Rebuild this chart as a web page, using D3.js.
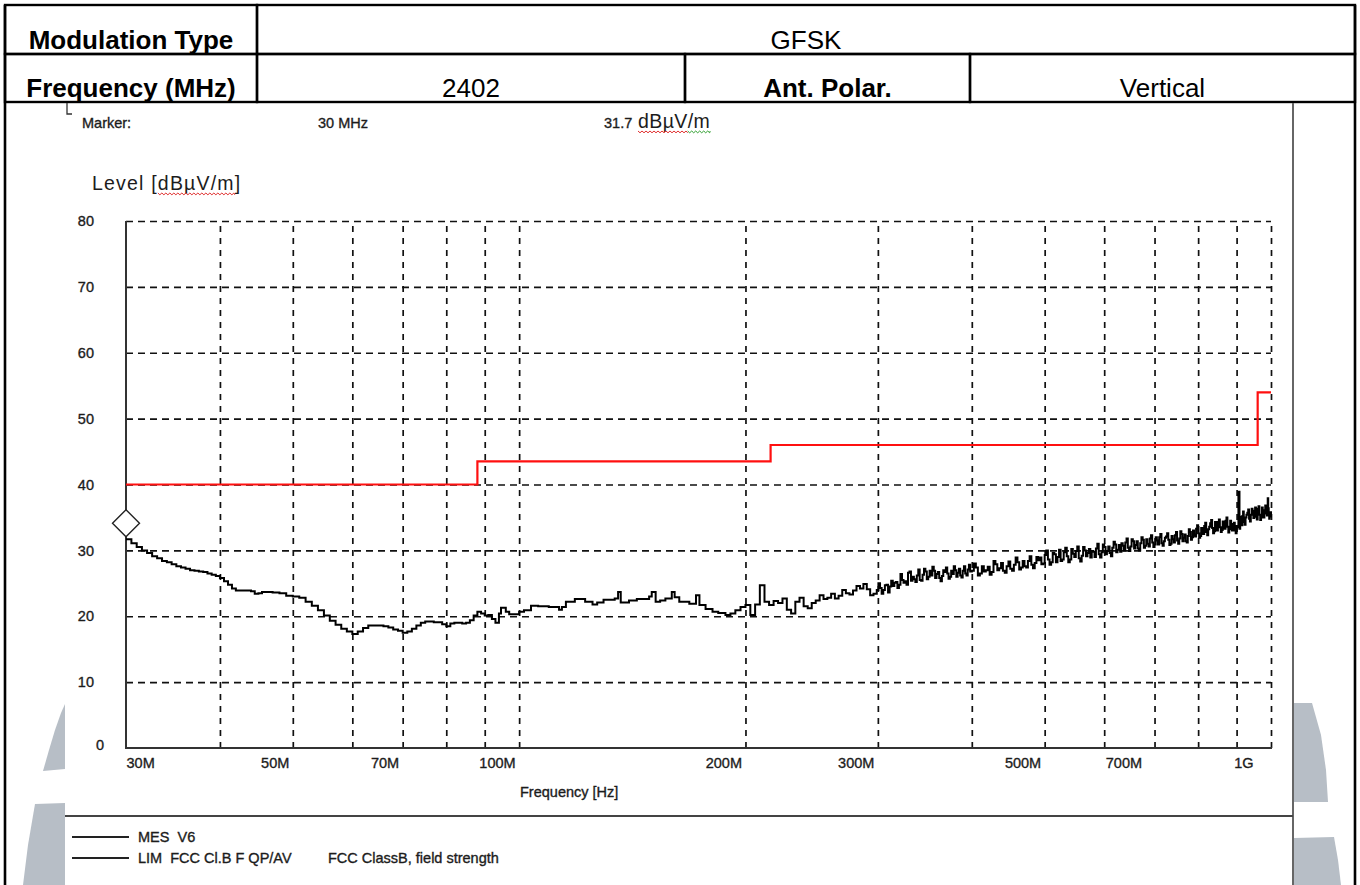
<!DOCTYPE html>
<html>
<head>
<meta charset="utf-8">
<script src="https://cdn.jsdelivr.net/npm/d3@7"></script>
<style>
  body { margin: 0; background: #fff; }
  svg { display: block; }
  text { font-family: "Liberation Sans", Arial, sans-serif; white-space: pre; }
  .ct { fill: #1c1c1c; stroke: #1c1c1c; stroke-width: 0.35px; }
</style>
</head>
<body>
<svg id="chart" width="1360" height="885"></svg>
<script>
// ---- header table ----
const headerRow1 = ["Modulation Type", "GFSK"];
const headerRow2 = ["Frequency (MHz)", "2402", "Ant. Polar.", "Vertical"];

// ---- marker readout ----
const markerFreq = 30;          // MHz
const markerLevel = 31.7;       // dBµV/m
const markerTexts = ["Marker:", "30 MHz", "31.7", "dBµV/m"];

// ---- axes ----
const yTicks = [0, 10, 20, 30, 40, 50, 60, 70, 80];
const gridFreqs = [40, 50, 60, 70, 80, 90, 100, 200, 300, 400, 500, 600, 700, 800, 900, 1000];
const labelFreqs = [30, 50, 70, 100, 200, 300, 500, 700, 1000];
const labelTexts = ["30M", "50M", "70M", "100M", "200M", "300M", "500M", "700M", "1G"];

// ---- FCC Class B limit (step function, MHz / dBµV/m) ----
const limitFreqs = [30, 88, 216, 960, 1000];
const limitLevels = [40, 43.5, 46, 54, 54];

// ---- measured sweep, vertical polarisation (MHz / dBµV/m) ----
const measFreqs = [
  30, 30.5, 31, 31.5, 32, 32.5, 33, 33.5, 34, 34.5, 35, 35.5, 36, 36.5, 37, 37.5, 38, 38.5, 39, 39.5,
  40, 40.5, 41, 41.5, 42, 43, 44, 44.5, 45, 45.5, 46, 47, 48, 49, 50, 51, 52, 53, 54, 55,
  56, 57, 58, 59, 60, 61, 62, 63, 64, 65, 66, 67, 68, 69, 70, 71, 72, 73, 74, 75,
  76, 77, 78, 79, 80, 81, 82, 83, 84, 85, 86, 87, 88, 89, 90, 91, 92, 93, 94, 94.6,
  96, 97, 98, 100, 101.5, 103.7, 106, 109.5, 113, 114, 115.4, 118.6, 122.4, 125.2, 127, 129.5, 134, 135.4, 136.5, 140,
  143.4, 148.9, 150.1, 151.9, 154, 156.5, 159.6, 161, 163.3, 168.4, 171.9, 173.7, 177, 180.8, 184, 188.1, 191, 193.9, 197,
  200, 203, 206, 209, 212, 215, 218, 221, 224, 227, 230, 233, 236, 239, 242, 245, 248, 251, 254, 257,
  260, 263, 266, 269, 272, 275, 278, 281, 284, 287, 290, 293, 296, 299, 302, 305, 308, 311, 314, 317,
  320, 323, 326, 329, 332, 335, 338, 341, 344, 347, 350, 353, 356, 359, 362, 365, 368, 371, 374, 377,
  380, 383, 386, 389, 392, 395, 398,
  400, 405, 410, 415, 420, 425, 430, 435, 440, 445, 450, 455, 460, 465, 470, 475, 480, 485, 490, 495,
  500, 505, 510, 515, 520, 525, 530, 535, 540, 545, 550, 555, 560, 565, 570, 575, 580, 585, 590, 595,
  600, 605, 610, 615, 620, 625, 630, 635, 640, 645, 650, 655, 660, 665, 670, 675, 680, 685, 690, 695,
  700, 705, 710, 715, 720, 725, 730, 735, 740, 745, 750, 755, 760, 765, 770, 775, 780, 785, 790, 795,
  800, 805, 810, 815, 820, 825, 830, 835, 840, 845, 850, 855, 860, 865, 870, 875, 880, 885, 890, 895,
  900, 905, 908, 912, 916, 920, 925, 930, 935, 940, 945, 950, 955, 960, 965, 970, 975, 980, 985, 990,
  993, 996, 1000
];
const measLevels = [
  31.7, 31.1, 30.5, 30.0, 29.6, 29.1, 28.8, 28.4, 28.2, 27.9, 27.6, 27.4, 27.2, 27.0, 26.9, 26.8, 26.7, 26.5, 26.3, 26.1,
  25.8, 25.3, 24.8, 24.2, 23.9, 23.9, 23.8, 23.4, 23.5, 23.7, 23.7, 23.6, 23.5, 23.1, 23.0, 22.8, 22.2, 21.6, 20.9, 20.1,
  19.3, 18.7, 18.1, 17.7, 17.3, 17.7, 18.2, 18.6, 18.6, 18.6, 18.5, 18.3, 18.0, 17.8, 17.5, 17.7, 18.1, 18.6, 19.0, 19.2,
  19.2, 19.1, 19.1, 18.8, 18.5, 18.9, 19.0, 19.0, 18.9, 19.0, 19.4, 20.1, 20.7, 20.4, 20.1, 20.2, 19.6, 19.0, 20.4, 21.3,
  20.7, 20.3, 20.3, 20.7, 20.9, 21.6, 21.5, 21.4, 21.0, 21.4, 22.2, 22.6, 22.2, 21.8, 22.1, 22.5, 22.7, 23.7, 22.1, 22.4,
  22.6, 23.0, 23.7, 22.2, 22.4, 22.7, 23.7, 22.9, 22.2, 21.9, 23.2, 21.7, 21.1, 20.7, 20.5, 20.2, 20.4, 20.9, 21.4,
  21.7, 20.2, 21.8, 24.7, 22.2, 21.7, 22.3, 22.0, 22.7, 21.0, 20.4, 22.2, 22.8, 21.5, 21.2, 22.0, 22.4, 23.2, 22.6, 22.8,
  23.4, 22.7, 23.1, 24.0, 23.5, 23.3, 23.9, 24.6, 24.2, 24.9, 24.1, 23.2, 23.4, 24.0, 24.3, 24.0, 24.8, 24.5, 24.6, 25.2,
  24.8, 25.5, 25.3, 26.6, 25.4, 25.6, 26.2, 25.5, 26.3, 26.8, 26.0, 26.2, 26.9, 26.4, 25.8, 26.1, 26.7, 26.5, 26.0, 26.4,
  27.0, 26.6, 26.2, 26.9, 26.5, 27.1, 26.8,
  26.9, 27.4, 26.5, 26.8, 27.5, 26.7, 27.9, 27.3, 26.9, 27.6, 27.2, 27.8, 28.2, 27.4, 27.6, 28.4, 27.8, 28.1, 28.5, 27.9,
  29.3, 28.6, 28.2, 29.4, 29.0, 28.4, 29.7, 29.1, 28.6, 29.5, 29.9, 28.8, 29.2, 30.0, 29.6, 28.9, 29.8, 30.3, 29.4, 29.7,
  30.5, 29.9, 29.6, 30.4, 30.9, 30.1, 29.8, 30.7, 31.2, 30.4, 30.6, 31.4, 30.8, 30.3, 31.1, 31.6, 30.7, 31.0, 31.8, 31.2,
  30.9, 31.5, 32.0, 31.1, 31.4, 32.1, 31.6, 31.0, 31.7, 32.3, 31.5, 31.8, 32.5, 31.9, 31.4, 32.2, 32.8, 32.0, 32.4, 33.3,
  32.6, 32.2, 33.1, 33.7, 32.8, 33.2, 34.1, 33.4, 32.9, 33.8, 34.3, 33.5, 33.1, 34.0, 34.5, 33.6, 33.2, 34.0, 33.4, 33.0,
  33.7, 38.9, 33.3, 34.6, 35.2, 34.3, 35.0, 35.7, 34.8, 35.4, 36.0, 35.1, 35.5, 36.3, 35.4, 35.0, 36.1, 35.6, 36.4, 37.9,
  35.6, 35.2, 35.0
];
// additional sweep points between the ones above (300 MHz - 1 GHz)
const measFreqsFine = [
  300.5, 303.5, 306.5, 309.5, 312.5, 315.5, 318.5, 321.5, 324.5, 327.5, 330.5, 333.5, 336.5, 339.5, 342.5, 345.5,
  348.5, 351.5, 354.5, 357.5, 360.5, 363.5, 366.5, 369.5, 372.5, 375.5, 378.5, 381.5, 384.5, 387.5, 390.5, 393.5, 396.5,
  402.5, 407.5, 412.5, 417.5, 422.5, 427.5, 432.5, 437.5, 442.5, 447.5, 452.5, 457.5, 462.5, 467.5, 472.5, 477.5,
  482.5, 487.5, 492.5, 497.5, 502.5, 507.5, 512.5, 517.5, 522.5, 527.5, 532.5, 537.5, 542.5, 547.5, 552.5, 557.5,
  562.5, 567.5, 572.5, 577.5, 582.5, 587.5, 592.5, 597.5, 602.5, 607.5, 612.5, 617.5, 622.5, 627.5, 632.5, 637.5,
  642.5, 647.5, 652.5, 657.5, 662.5, 667.5, 672.5, 677.5, 682.5, 687.5, 692.5, 697.5, 702.5, 707.5, 712.5, 717.5,
  722.5, 727.5, 732.5, 737.5, 742.5, 747.5, 752.5, 757.5, 762.5, 767.5, 772.5, 777.5, 782.5, 787.5, 792.5, 797.5,
  802.5, 807.5, 812.5, 817.5, 822.5, 827.5, 832.5, 837.5, 842.5, 847.5, 852.5, 857.5, 862.5, 867.5, 872.5, 877.5,
  882.5, 887.5, 892.5, 897.5, 902.5, 910, 914, 918, 922.5, 927.5, 932.5, 937.5, 942.5, 947.5, 952.5, 957.5,
  962.5, 967.5, 972.5, 977.5, 982.5, 987.5, 991.5, 994.5, 998
];
const measLevelsFine = [
  25.0, 23.4, 24.7, 23.6, 25.4, 25.1, 24.3, 26.4, 25.1, 24.8, 26.8, 26.0, 25.2, 27.1, 25.4, 27.2,
  25.6, 26.9, 27.5, 25.8, 26.7, 25.3, 27.0, 27.4, 25.7, 26.9, 27.6, 26.0, 27.2, 25.9, 27.6, 26.2, 27.8,
  28.0, 26.2, 27.6, 27.0, 26.3, 28.4, 27.0, 28.1, 26.6, 28.3, 26.9, 28.9, 27.1, 28.4, 27.4, 29.1,
  27.3, 29.0, 28.9, 28.0, 30.0, 27.8, 29.6, 28.2, 30.1, 28.6, 30.4, 28.2, 30.2, 29.0, 30.6, 28.3,
  30.5, 29.1, 30.2, 29.9, 29.0, 31.0, 28.9, 30.9, 29.4, 30.6, 29.1, 31.3, 29.7, 30.8, 31.1, 30.0,
  31.8, 29.9, 31.7, 30.3, 31.4, 30.0, 32.0, 30.4, 31.7, 30.6, 32.3, 30.5, 32.0, 30.9, 32.5, 30.7,
  31.9, 32.6, 30.8, 32.2, 31.2, 32.8, 31.0, 32.9, 31.4, 32.4, 31.2, 33.2, 31.6, 33.0, 32.1, 33.8,
  31.9, 33.4, 32.5, 34.2, 32.3, 33.6, 34.6, 32.6, 34.3, 33.0, 34.7, 32.8, 34.4, 33.3, 35.0, 32.7,
  34.5, 33.0, 34.2, 32.6, 33.5, 35.1, 33.8, 35.9, 33.9, 35.4, 36.2, 34.4, 36.3, 34.9, 36.5, 34.7,
  36.7, 34.6, 36.5, 35.0, 36.8, 35.3, 36.4, 34.8, 35.8
];

// ---- legend ----
const legendNames = ["MES  V6", "LIM  FCC Cl.B F QP/AV"];
const legendNotes = ["", "FCC ClassB, field strength"];

const svg = d3.select("#chart");
svg.append("rect").attr("width", 1360).attr("height", 885).attr("fill", "#fff");

// ---- faint logo watermark pieces at the page margins ----
const wm = svg.append("g").attr("fill", "#b7bec6");
[
  [[65,704],[61,713],[55,730],[49,750],[43,771],[65,769]],
  [[35,804],[65,803],[65,885],[23,885],[28,845]],
  [[1294,703],[1312,703],[1321,735],[1326,770],[1328,802],[1294,802]],
  [[1294,838],[1334,837],[1338,860],[1341,885],[1294,885]]
].forEach(p => wm.append("polygon").attr("points", p.map(q => q.join(",")).join(" ")));

// ---- header table ----
const tbl = svg.append("g");
const row1 = [[5, 257], [257, 1355]];
const row2 = [[5, 257], [257, 685], [685, 970], [970, 1355]];
const drawRow = (cells, texts, yTop, yBot, base) => {
  cells.forEach((c, i) => {
    tbl.append("rect").attr("x", c[0]).attr("y", yTop).attr("width", c[1] - c[0]).attr("height", yBot - yTop)
      .attr("fill", "none").attr("stroke", "#000").attr("stroke-width", 2.4);
    tbl.append("text").attr("x", (c[0] + c[1]) / 2).attr("y", base)
      .attr("text-anchor", "middle").attr("font-size", 26)
      .attr("font-weight", i % 2 === 0 ? "bold" : "normal").attr("fill", "#000")
      .text(texts[i]);
  });
};
drawRow(row1, headerRow1, 5, 54, 48.5);
drawRow(row2, headerRow2, 54, 102, 96.5);

// page side rules continue down the sheet
svg.append("line").attr("x1", 5).attr("x2", 5).attr("y1", 5).attr("y2", 885).attr("stroke", "#000").attr("stroke-width", 2.6);
svg.append("line").attr("x1", 1355).attr("x2", 1355).attr("y1", 5).attr("y2", 885).attr("stroke", "#000").attr("stroke-width", 2.6);

// plot frame pieces
svg.append("line").attr("x1", 1293).attr("x2", 1293).attr("y1", 103).attr("y2", 885).attr("stroke", "#666").attr("stroke-width", 2);
svg.append("path").attr("d", "M67,103V114H72").attr("fill", "none").attr("stroke", "#333").attr("stroke-width", 1.3);
svg.append("line").attr("x1", 65).attr("x2", 1293).attr("y1", 816).attr("y2", 816).attr("stroke", "#444").attr("stroke-width", 2);

// ---- scales ----
const x = d3.scaleLog().domain([30, 1000]).range([126, 1271]);
const y = d3.scaleLinear().domain([0, 80]).range([748, 221]);

const squiggle = (x0, x1, yy, color) => {
  let d = `M${x0},${yy}`;
  for (let xx = x0, k = 0; xx < x1; xx += 2, k++) d += `L${Math.min(xx + 2, x1)},${yy + (k % 2 ? 0 : 1.8)}`;
  svg.append("path").attr("d", d).attr("fill", "none").attr("stroke", color).attr("stroke-width", 1);
};

// ---- marker readout ----
svg.append("text").attr("class", "ct").attr("x", 82).attr("y", 128).attr("font-size", 14.5).text(markerTexts[0]);
svg.append("text").attr("class", "ct").attr("x", 318).attr("y", 128).attr("font-size", 14.5).text(markerTexts[1]);
svg.append("text").attr("class", "ct").attr("x", 604).attr("y", 128).attr("font-size", 14.5).text(markerTexts[2]);
const mUnit = svg.append("text").attr("x", 638).attr("y", 128).attr("font-size", 19.5).attr("letter-spacing", 0.4)
  .attr("fill", "#1c1c1c").text(markerTexts[3]);
{
  const n = mUnit.node();
  const a = 638 + n.getSubStringLength(0, 4);
  squiggle(638, a, 131, "#e03030");
  squiggle(a, 638 + n.getComputedTextLength(), 131, "#30a030");
}

// ---- y axis title ----
const lvl = svg.append("text").attr("x", 92).attr("y", 190).attr("font-size", 19.5).attr("letter-spacing", 1.2)
  .attr("fill", "#1c1c1c").text("Level [dBµV/m]");
{
  const n = lvl.node();
  const s = 92 + n.getSubStringLength(0, 7);
  const e = 92 + n.getSubStringLength(0, 13);
  squiggle(s, e, 193, "#e03030");
}

// ---- grid ----
const plot = svg.append("g");
plot.append("g")
  .attr("transform", "translate(0,748)")
  .call(d3.axisBottom(x).tickValues(gridFreqs).tickSize(-(748 - 221)).tickFormat(""))
  .call(g => g.select(".domain").remove())
  .call(g => g.selectAll(".tick line").attr("stroke", "#111").attr("stroke-width", 1.7).attr("stroke-dasharray", "6,6"));
plot.append("g")
  .attr("transform", "translate(126,0)")
  .call(d3.axisLeft(y).tickValues(yTicks.filter(v => v > 0)).tickSize(-(1271 - 126)).tickFormat(""))
  .call(g => g.select(".domain").remove())
  .call(g => g.selectAll(".tick line").attr("stroke", "#111").attr("stroke-width", 1.7).attr("stroke-dasharray", "7,5"));

// solid axis lines
plot.append("line").attr("x1", 126).attr("x2", 126).attr("y1", 221).attr("y2", 749).attr("stroke", "#333").attr("stroke-width", 2);
plot.append("line").attr("x1", 125).attr("x2", 1272).attr("y1", 748).attr("y2", 748).attr("stroke", "#333").attr("stroke-width", 2);

// ---- y tick labels ----
svg.append("g")
  .attr("transform", "translate(94,0)")
  .call(d3.axisLeft(y).tickValues(yTicks).tickSize(0).tickPadding(0))
  .call(g => g.select(".domain").remove())
  .call(g => g.selectAll("text")
    .attr("class", "ct")
    .attr("font-family", "Liberation Sans, Arial, sans-serif")
    .attr("font-size", 14.5).attr("text-anchor", "end")
    .attr("x", d => d === 0 ? 10 : 0).attr("dy", d => d === 0 ? "0.1em" : "0.32em"));

// ---- x tick labels (the last two sit further left of their grid line) ----
svg.append("g")
  .attr("transform", "translate(0,768)")
  .call(d3.axisBottom(x).tickValues(labelFreqs).tickSize(0).tickPadding(0).tickFormat((d, i) => labelTexts[i]))
  .call(g => g.select(".domain").remove())
  .call(g => g.selectAll("text")
    .attr("class", "ct")
    .attr("font-family", "Liberation Sans, Arial, sans-serif")
    .attr("font-size", 14.5).attr("dy", 0)
    .attr("text-anchor", d => d === 30 ? "start" : "end")
    .attr("x", d => d === 30 ? 0 : d === 1000 ? -18 : d === 700 ? -13 : -4));

svg.append("text").attr("class", "ct").attr("x", 520).attr("y", 797).attr("font-size", 14.5).text("Frequency [Hz]");

// ---- limit line ----
const limitData = limitFreqs.map((f, i) => ({ f, v: limitLevels[i] }));
plot.append("path").datum(limitData)
  .attr("d", d3.line().x(d => x(d.f)).y(d => y(d.v)).curve(d3.curveStepAfter))
  .attr("fill", "none").attr("stroke", "#ff1010").attr("stroke-width", 2.2);

// ---- measured trace (both point lists merged in frequency order) ----
const measData = measFreqs.map((f, i) => ({ f, v: measLevels[i] }))
  .concat(measFreqsFine.map((f, i) => ({ f, v: measLevelsFine[i] })))
  .sort((a, b) => a.f - b.f);
plot.append("path").datum(measData)
  .attr("d", d3.line().x(d => x(d.f)).y(d => y(d.v)).curve(d3.curveStepAfter))
  .attr("fill", "none").attr("stroke", "#000").attr("stroke-width", 2).attr("stroke-linejoin", "miter");

// ---- marker diamond sitting on the trace start ----
{
  const cx = x(markerFreq), cy = y(markerLevel) - 16, r = 13.5;
  plot.append("path")
    .attr("d", `M${cx},${cy - r}L${cx + r},${cy}L${cx},${cy + r}L${cx - r},${cy}Z`)
    .attr("fill", "#fff").attr("stroke", "#222").attr("stroke-width", 1.4);
}

// ---- legend ----
const leg = svg.append("g");
legendNames.forEach((name, i) => {
  const yy = 837 + i * 21;
  leg.append("line").attr("x1", 72).attr("x2", 129).attr("y1", yy).attr("y2", yy).attr("stroke", "#222").attr("stroke-width", 2);
  leg.append("text").attr("class", "ct").attr("x", 138).attr("y", yy + 5).attr("font-size", 14.5).text(name);
  if (legendNotes[i]) leg.append("text").attr("class", "ct").attr("x", 328).attr("y", yy + 5).attr("font-size", 14.5).text(legendNotes[i]);
});
</script>
</body>
</html>
